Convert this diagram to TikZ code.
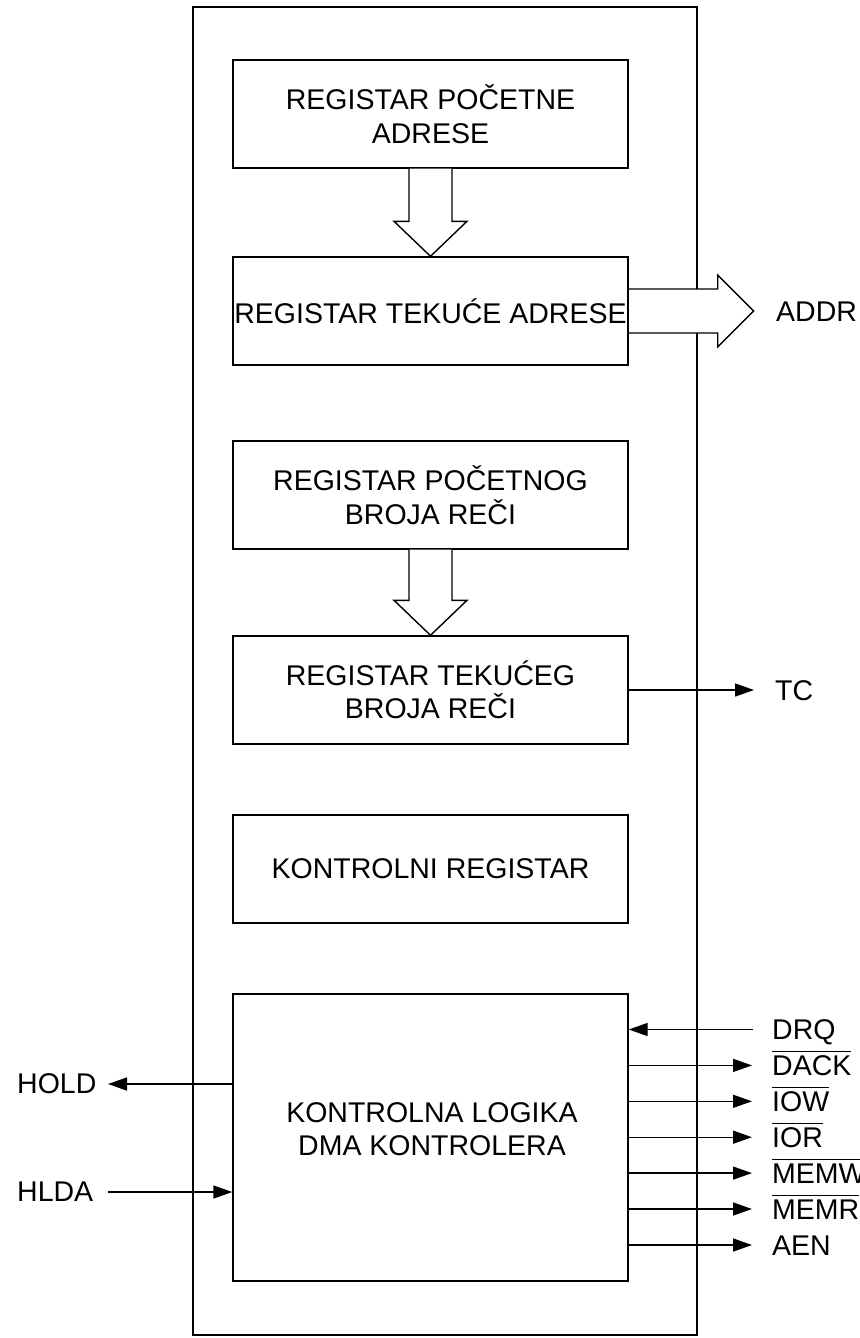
\documentclass[tikz,border=0pt]{standalone}
\usepackage{fontspec}
\setmainfont{Liberation Sans}
\usetikzlibrary{arrows.meta,calc,backgrounds}
\newcommand\ovl[1]{\vbox{\hrule height 1.3pt\kern 3.2pt\hbox{#1}}}
\begin{document}
\begin{tikzpicture}[x=1pt,y=-1pt,
  every node/.style={font=\fontsize{28.5}{33.5}\selectfont},
  ln/.style={line width=1.4pt},
  box/.style={draw, line width=1.4pt, minimum width=395pt, minimum height=108pt, align=center, inner sep=0pt},
  arr/.style={line width=1.4pt, -{Triangle[length=19pt,width=13pt]}},
  lbl/.style={anchor=base west, inner sep=0pt}]
\useasboundingbox (0,0) rectangle (859,1338);

% register boxes
\node[box] (b1) at (430.5,114) {REGISTAR POČETNE\\ADRESE};
\node[box] (b2) at (430.5,311) {REGISTAR TEKUĆE ADRESE};
\node[box] (b3) at (430.5,495) {REGISTAR POČETNOG\\BROJA REČI};
\node[box] (b4) at (430.5,690) {REGISTAR TEKUĆEG\\BROJA REČI};
\node[box] (b5) at (430.5,869) {KONTROLNI REGISTAR};
\node[box, minimum height=287pt] (b6) at (430.5,1137.5) {};
\node[align=center, inner sep=0pt] (b6t) at (432,1129) {KONTROLNA LOGIKA\\DMA KONTROLERA};

% outer frame and address bus arrow (behind the boxes)
\begin{scope}[on background layer]
\node[draw, line width=1.4pt, minimum width=504pt, minimum height=1328pt, inner sep=0pt] (outer) at (445,671) {};
\draw[ln, fill=white] ($(b2.east)+(0,-22)$) -- ++(89,0) -- ++(0,-14) -- ++(36,36) -- ++(-36,36) -- ++(0,-14) -- ($(b2.east)+(0,22)$);
\end{scope}
\node[anchor=west, inner sep=0pt] (addr) at (776,312) {ADDR};

% hollow transfer arrows
\draw[ln, fill=white] ($(b1.south)+(-21.5,0)$) -- ($(b2.north)+(-21.5,-35)$) -- ++(-15,0) -- (b2.north) -- ++(36.5,-35) -- ++(-15,0) -- ($(b1.south)+(21.5,0)$);
\draw[ln, fill=white] ($(b3.south)+(-21.5,0)$) -- ($(b4.north)+(-21.5,-35)$) -- ++(-15,0) -- (b4.north) -- ++(36.5,-35) -- ++(-15,0) -- ($(b3.south)+(21.5,0)$);

% TC
\coordinate (tcE) at (754,690);
\draw[arr] (b4.east) -- (tcE);
\node[lbl] (tc) at (775,700) {TC};

% HOLD / HLDA
\node[anchor=west, inner sep=0pt] (hold) at (17,1084) {HOLD};
\node[anchor=west, inner sep=0pt] (hlda) at (17,1192) {HLDA};
\coordinate (holdT) at (108,1084);
\coordinate (hldaS) at (108,1192);
\draw[arr] (b6.west |- holdT) -- (holdT);
\draw[arr] (hldaS) -- (b6.west |- hldaS);

% right-hand control signals
\coordinate (drqS) at (753,1029.5);
\coordinate (dackE) at (752,1065.4);
\coordinate (iowE) at (752,1101.3);
\coordinate (iorE) at (752,1137.2);
\coordinate (memwE) at (752,1173.1);
\coordinate (memrE) at (752,1209);
\coordinate (aenE) at (752,1245);
\draw[arr] (drqS) -- (b6.east |- drqS);
\draw[arr] (b6.east |- dackE) -- (dackE);
\draw[arr] (b6.east |- iowE) -- (iowE);
\draw[arr] (b6.east |- iorE) -- (iorE);
\draw[arr] (b6.east |- memwE) -- (memwE);
\draw[arr] (b6.east |- memrE) -- (memrE);
\draw[arr] (b6.east |- aenE) -- (aenE);

\node[lbl] (drq) at (772,1039.5) {DRQ};
\node[lbl] (dack) at (772,1075.4) {\ovl{DACK}};
\node[lbl] (iow) at (772,1111.3) {\ovl{IOW}};
\node[lbl] (ior) at (772,1147.2) {\ovl{IOR}};
\node[lbl] (memw) at (772,1183.1) {\ovl{MEMW}};
\node[lbl] (memr) at (772,1219) {\ovl{MEMR}};
\node[lbl] (aen) at (772,1255) {AEN};
\end{tikzpicture}
\end{document}
